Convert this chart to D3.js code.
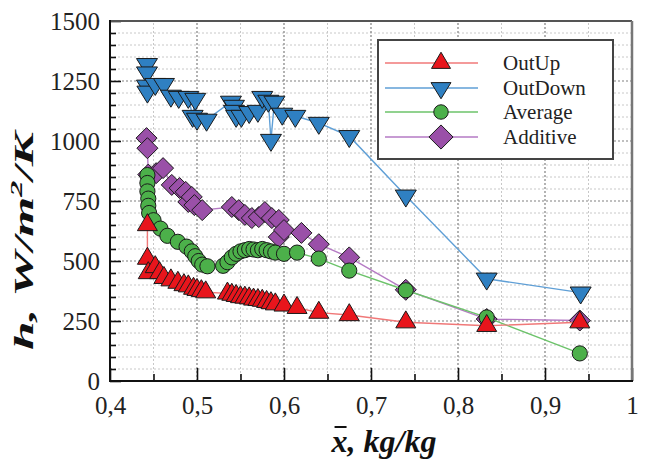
<!DOCTYPE html>
<html><head><meta charset="utf-8">
<script src="https://cdn.jsdelivr.net/npm/d3@7"></script>
<style>html,body{margin:0;padding:0;background:#fff}svg{display:block}</style>
</head><body>
<svg id="chart" width="646" height="460"></svg>
<script>
// ---- data ----
const seriesNames = ["OutUp", "OutDown", "Average", "Additive"];

const outUpX = [0.443,0.443,0.444,0.452,0.457,0.462,0.470,0.478,0.485,0.490,0.496,0.500,0.505,0.510,0.535,0.540,0.545,0.550,0.555,0.560,0.565,0.570,0.575,0.580,0.585,0.590,0.600,0.615,0.640,0.675,0.740,0.833,0.940];
const outUpY = [650,510,450,475,450,430,420,410,400,395,385,380,375,370,365,360,355,350,348,345,340,338,335,330,325,320,315,305,285,275,245,230,245];

const outDownX = [0.4425,0.4425,0.4425,0.443,0.452,0.462,0.470,0.479,0.490,0.495,0.498,0.500,0.511,0.539,0.5425,0.5425,0.545,0.551,0.560,0.570,0.575,0.582,0.585,0.589,0.598,0.613,0.640,0.675,0.740,0.833,0.941];
const outDownY = [1320,1285,1230,1205,1237,1237,1188,1183,1183,1104,1175,1092,1088,1163,1146,1125,1104,1104,1120,1125,1183,1167,1004,1163,1113,1104,1075,1020,772,426,368];

const avgX = [0.443,0.443,0.443,0.444,0.444,0.445,0.450,0.458,0.466,0.478,0.488,0.494,0.498,0.502,0.506,0.512,0.530,0.535,0.540,0.545,0.550,0.555,0.560,0.565,0.570,0.575,0.580,0.585,0.590,0.600,0.615,0.640,0.675,0.740,0.833,0.940];
const avgY = [858,825,790,760,730,700,670,635,605,580,560,540,520,500,485,478,480,495,515,530,540,545,550,548,545,550,545,540,535,530,535,510,460,378,265,115];

const addX = [0.442,0.443,0.444,0.453,0.461,0.471,0.480,0.487,0.490,0.494,0.497,0.506,0.540,0.548,0.555,0.563,0.571,0.578,0.586,0.594,0.594,0.600,0.620,0.640,0.675,0.740,0.833,0.940];
const addY = [1012,970,860,866,887,817,804,788,746,767,733,712,725,712,692,679,683,704,679,671,600,629,617,570,515,380,258,252];

const xTickValues = [0.4,0.5,0.6,0.7,0.8,0.9,1.0];
const xTickLabels = ["0,4","0,5","0,6","0,7","0,8","0,9","1"];
const xMinorValues = [0.45,0.55,0.65,0.75,0.85,0.95];
const yTickValues = [0,250,500,750,1000,1250,1500];
const yTickLabels = ["0","250","500","750","1000","1250","1500"];
const yMinorValues = [50,100,150,200,300,350,400,450,550,600,650,700,800,850,900,950,1050,1100,1150,1200,1300,1350,1400,1450];

// ---- styles ----
const lineColors = {OutUp:"#f07878", OutDown:"#5f9fd6", Average:"#6cc36a", Additive:"#b57ac4"};
const fillColors = {OutUp:"#e8151c", OutDown:"#2f80c2", Average:"#4cb04a", Additive:"#9a50a8"};
const serif = "'Liberation Serif','DejaVu Serif',serif";

const svg = d3.select("#chart");
const x = d3.scaleLinear().domain([0.4, 1]).range([110, 632]);
const y = d3.scaleLinear().domain([0, 1500]).range([381, 21]);

// ---- grid ----
const grid = svg.append("g");
grid.selectAll(".ymin").data(yMinorValues).join("line")
  .attr("x1", x(0.4)).attr("x2", x(1)).attr("y1", d=>y(d)).attr("y2", d=>y(d))
  .attr("stroke", "#c8c8c8").attr("stroke-width", 1).attr("stroke-dasharray", "2,2");
grid.selectAll(".ymaj").data(yTickValues.filter(d=>d>0 && d<1500)).join("line")
  .attr("x1", x(0.4)).attr("x2", x(1)).attr("y1", d=>y(d)).attr("y2", d=>y(d))
  .attr("stroke", "#808080").attr("stroke-width", 1.2).attr("stroke-dasharray", "2,2");
grid.selectAll(".xmin").data(xMinorValues).join("line")
  .attr("x1", d=>x(d)).attr("x2", d=>x(d)).attr("y1", y(0)).attr("y2", y(1500))
  .attr("stroke", "#c8c8c8").attr("stroke-width", 1).attr("stroke-dasharray", "2,2");
grid.selectAll(".xmaj").data(xTickValues.filter(d=>d>0.4 && d<1)).join("line")
  .attr("x1", d=>x(d)).attr("x2", d=>x(d)).attr("y1", y(0)).attr("y2", y(1500))
  .attr("stroke", "#808080").attr("stroke-width", 1.2).attr("stroke-dasharray", "2,2");

// ---- series ----
const symbols = {
  OutUp: (s=1) => { const w=20*s, h=17*s; return `M0,${-2*h/3}L${w/2},${h/3}L${-w/2},${h/3}Z`; },
  OutDown: (s=1) => { const w=21*s, h=17*s; return `M0,${2*h/3}L${w/2},${-h/3}L${-w/2},${-h/3}Z`; },
  Average: (s=1) => d3.symbol(d3.symbolCircle, Math.PI*Math.pow(7.6*s,2))(),
  Additive: (s=1) => { const r=10.5*s; return `M0,${-r}L${r},0L0,${r}L${-r},0Z`; }
};
const data = {
  OutUp: outUpX.map((v,i)=>({x:v, y:outUpY[i]})),
  OutDown: outDownX.map((v,i)=>({x:v, y:outDownY[i]})),
  Average: avgX.map((v,i)=>({x:v, y:avgY[i]})),
  Additive: addX.map((v,i)=>({x:v, y:addY[i]}))
};
const line = d3.line().x(d=>x(d.x)).y(d=>y(d.y));
["Additive","Average","OutDown","OutUp"].forEach(name => {
  const g = svg.append("g");
  g.append("path").datum(data[name]).attr("d", line)
    .attr("fill","none").attr("stroke", lineColors[name]).attr("stroke-width", 1.4);
  g.selectAll("path.m").data(data[name]).join("path").attr("class","m")
    .attr("d", symbols[name](1))
    .attr("transform", d=>`translate(${x(d.x)},${y(d.y)})`)
    .attr("fill", fillColors[name]).attr("stroke", "#1a1a1a").attr("stroke-width", 1);
});

// ---- axes ----
const yMajor = d3.axisLeft(y).tickValues(yTickValues).tickSize(-11).tickPadding(10)
  .tickFormat((d,i)=>yTickLabels[i]);
const yMinorAx = d3.axisLeft(y).tickValues(yMinorValues).tickSize(-6).tickFormat("");
const xMajor = d3.axisBottom(x).tickValues(xTickValues).tickSize(-13).tickPadding(15)
  .tickFormat((d,i)=>xTickLabels[i]);
const xMinorAx = d3.axisBottom(x).tickValues(xMinorValues).tickSize(-7).tickFormat("");

function styleAxis(g){
  g.select(".domain").remove();
  g.selectAll("line").attr("stroke","#111").attr("stroke-width",1.6);
  g.selectAll("text").attr("font-family", serif).attr("font-size", 25).attr("fill","#222");
}
svg.append("g").attr("transform","translate(110,0)").call(yMinorAx).call(styleAxis);
svg.append("g").attr("transform","translate(110,0)").call(yMajor).call(styleAxis);
svg.append("g").attr("transform","translate(0,381)").call(xMinorAx).call(styleAxis);
svg.append("g").attr("transform","translate(0,381)").call(xMajor).call(styleAxis);

// frame
svg.append("line").attr("x1",x(0.4)).attr("x2",x(1)).attr("y1",y(1500)).attr("y2",y(1500))
  .attr("stroke","#555").attr("stroke-width",2);
svg.append("line").attr("x1",x(1)).attr("x2",x(1)).attr("y1",y(1500)).attr("y2",y(0))
  .attr("stroke","#777").attr("stroke-width",2.5);
svg.append("line").attr("x1",x(0.4)).attr("x2",x(0.4)).attr("y1",y(1500)-1).attr("y2",y(0)+1)
  .attr("stroke","#111").attr("stroke-width",2);
svg.append("line").attr("x1",x(0.4)-1).attr("x2",x(1)+1).attr("y1",y(0)).attr("y2",y(0))
  .attr("stroke","#111").attr("stroke-width",2);

// ---- axis titles ----
const yt = svg.append("text").attr("font-family", serif).attr("font-weight","bold")
  .attr("font-style","italic").attr("font-size",27).attr("fill","#111")
  .attr("text-anchor","middle");
yt.append("tspan").text("h, W/m");
yt.append("tspan").attr("font-size",17).attr("dy",-11).text("2");
yt.append("tspan").attr("dy",11).text("/K");
const ytLen = yt.node().getComputedTextLength();
const sx = 218 / ytLen;
yt.attr("transform", `translate(33,241) rotate(-90) scale(${sx},1)`);

const xt = svg.append("text").attr("font-family", serif).attr("font-weight","bold")
  .attr("font-style","italic").attr("font-size",32).attr("fill","#111")
  .attr("text-anchor","middle").attr("x", 384).attr("y", 452).text("x, kg/kg");
const ext = xt.node().getExtentOfChar(0);
svg.append("line").attr("x1", ext.x+3).attr("x2", ext.x+ext.width-1)
  .attr("y1", 427).attr("y2", 427).attr("stroke","#111").attr("stroke-width",2);

// ---- legend ----
const lg = svg.append("g");
lg.append("rect").attr("x",378).attr("y",40).attr("width",235).attr("height",119)
  .attr("fill","#fff").attr("stroke","#444").attr("stroke-width",2);
const legY = [63, 88, 112, 137];
seriesNames.forEach((name,i) => {
  const ly = legY[i];
  lg.append("line").attr("x1",385).attr("x2",478).attr("y1",ly).attr("y2",ly)
    .attr("stroke", lineColors[name]).attr("stroke-width",1.4);
  lg.append("path").attr("d", symbols[name](name==="Additive"?1.15:0.95))
    .attr("transform",`translate(441,${ly})`)
    .attr("fill", fillColors[name]).attr("stroke","#1a1a1a").attr("stroke-width",1);
  lg.append("text").attr("x",503).attr("y",ly+7).attr("font-family",serif)
    .attr("font-size",21).attr("fill","#222").text(name);
});
</script>
</body></html>
